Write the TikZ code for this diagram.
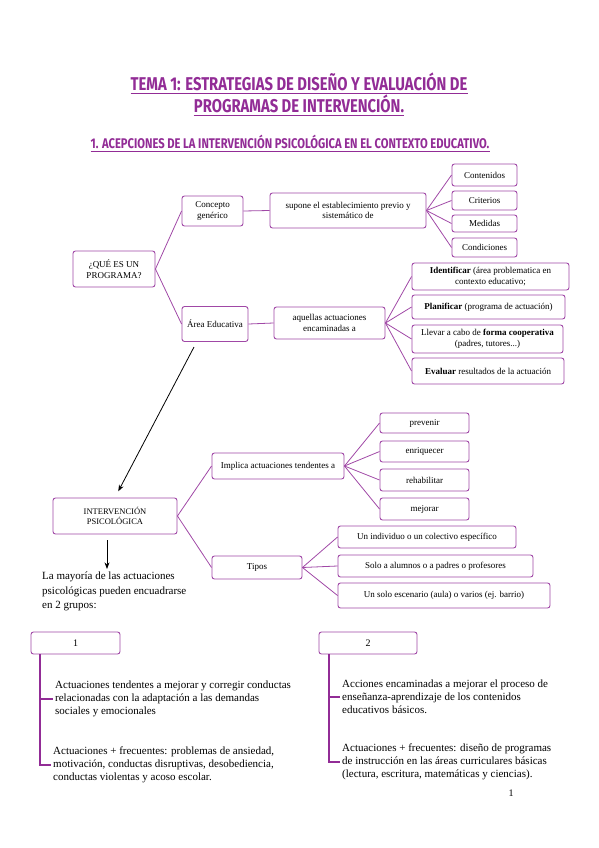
\documentclass[tikz,border=0pt]{standalone}
\usepackage{fontspec}
\setmainfont{Liberation Serif}
\newfontfamily\titulofont{Fira Sans}
\usetikzlibrary{arrows.meta,positioning,calc}
\definecolor{morado}{RGB}{146,44,150}
\definecolor{lila}{RGB}{160,72,166}

\begin{document}
\begin{tikzpicture}[>=Stealth, x=1pt, y=-1pt,
  caja/.style={draw=lila, line width=0.9pt, rounded corners=2.5pt, fill=white, align=center,
    inner sep=1pt, font=\fontsize{9}{10.5}\selectfont},
  tam/.style 2 args={minimum width=#1pt, minimum height=#2pt},
  rama/.style={draw=lila, line width=0.8pt},
  tronco/.style={draw=morado, line width=1.4pt},
  flecha/.style={->, line width=0.8pt, black},
  titulo/.style={inner sep=0pt, text=morado, font=\titulofont\bfseries\fontsize{18.5}{20}\selectfont},
  texto/.style={inner sep=0pt, align=left, font=\fontsize{11}{12.8}\selectfont}]
  \useasboundingbox (0,0) rectangle (599,848);
  \node[titulo] (tit1) at (299,82) {\scalebox{0.8}[1]{TEMA 1: ESTRATEGIAS DE DISEÑO Y EVALUACIÓN DE}};
  \node[titulo] (tit2) at (299,104) {\scalebox{0.8}[1]{PROGRAMAS DE INTERVENCIÓN.}};
  \node[titulo, font=\titulofont\bfseries\fontsize{14}{15}\selectfont] (tit3) at (290,142) {\scalebox{0.8}[1]{1. ACEPCIONES DE LA INTERVENCIÓN PSICOLÓGICA EN EL CONTEXTO EDUCATIVO.}};
  \foreach \t in {tit1,tit2,tit3}
    \draw[morado, line width=1pt] ([yshift=-3pt]\t.base west) -- ([yshift=-3pt]\t.base east);

  \node[caja, tam={82}{36}] (prog) at (114,269) {¿QUÉ ES UN\\PROGRAMA?};
  \node[caja, tam={61}{30}] (concepto) at (212.5,211) {Concepto\\genérico};
  \node[caja, tam={156}{35}] (supone) at (348,210.5) {supone el establecimiento previo y\\sistemático de};
  \node[caja, tam={65}{22}] (contenidos) at (484.5,175) {Contenidos};
  \node[caja, tam={65}{19}] (criterios) at (484.5,200.5) {Criterios};
  \node[caja, tam={65}{17}] (medidas) at (484.5,223.5) {Medidas};
  \node[caja, tam={65}{19}] (condiciones) at (484.5,247.5) {Condiciones};
  \node[caja, tam={66}{35}] (area) at (215,324) {Área Educativa};
  \node[caja, tam={111}{32}] (aquellas) at (329.5,323) {aquellas actuaciones\\encaminadas a};
  \node[caja, tam={157}{27}] (identificar) at (490.5,276.5) {\textbf{Identificar} (área problematica en\\contexto educativo;};
  \node[caja, tam={153}{24}] (planificar) at (488.5,307) {\textbf{Planificar} (programa de actuación)};
  \node[caja, tam={151}{28}] (llevar) at (487.5,339) {Llevar a cabo de \textbf{forma cooperativa}\\(padres, tutores...)};
  \node[caja, tam={152}{26}] (evaluar) at (488,371) {\textbf{Evaluar} resultados de la actuación};

  \draw[rama] (prog.east) -- (concepto.west);
  \draw[rama] (prog.east) -- (area.west);
  \draw[rama] (concepto.east) -- (supone.west);
  \draw[rama] (area.east) -- (aquellas.west);
  \foreach \n in {contenidos,criterios,medidas,condiciones}
    \draw[rama] (supone.east) -- (\n.west);
  \foreach \n in {identificar,planificar,llevar,evaluar}
    \draw[rama] (aquellas.east) -- (\n.west);

  \node[caja, tam={124}{36}, font=\fontsize{8.5}{10}\selectfont] (interv) at (115,516) {INTERVENCIÓN\\PSICOLÓGICA};
  \coordinate (ini) at (194,347);
  \draw[flecha] (ini) -- (interv.north) [shorten >=7pt];
  \node[caja, tam={132}{26}] (implica) at (278,466) {Implica actuaciones tendentes a};
  \node[caja, tam={89}{20}] (prevenir) at (424.5,423) {prevenir};
  \node[caja, tam={89}{21}] (enriquecer) at (424.5,451.5) {enriquecer};
  \node[caja, tam={89}{22}] (rehabilitar) at (424.5,480) {rehabilitar};
  \node[caja, tam={89}{22}] (mejorar) at (424.5,509) {mejorar};
  \node[caja, tam={90}{23}] (tipos) at (257,567.5) {Tipos};
  \node[caja, tam={178}{22}] (individuo) at (427,537) {Un individuo o un colectivo específico};
  \node[caja, tam={195}{22}] (solo) at (435.5,566) {Solo a alumnos o a padres o profesores};
  \node[caja, tam={212}{25}] (escenario) at (444,595.5) {Un solo escenario (aula) o varios (ej. barrio)};

  \draw[rama] (interv.east) -- (implica.west);
  \draw[rama] (interv.east) -- (tipos.west);
  \foreach \n in {prevenir,enriquecer,rehabilitar,mejorar}
    \draw[rama] (implica.east) -- (\n.west);
  \foreach \n in {individuo,solo,escenario}
    \draw[rama] (tipos.east) -- (\n.west);

  \coordinate (baja) at (107,540);
  \draw[flecha] (baja) -- ++(0,29);
  \node[texto, anchor=north west, font=\fontsize{11}{14.5}\selectfont] (mayoria) at (42,572)
    {La mayoría de las actuaciones\\psicológicas pueden encuadrarse\\en 2 grupos:};

  \node[caja, tam={89}{22}, font=\fontsize{10}{11}\selectfont] (g1) at (75.5,643) {1};
  \node[caja, tam={98}{22}, font=\fontsize{10}{11}\selectfont] (g2) at (368,643) {2};
  \node[texto, anchor=west] (t1a) at (55,699) {Actuaciones tendentes a mejorar y corregir conductas\\relacionadas con la adaptación a las demandas\\sociales y emocionales};
  \node[texto, anchor=west] (t1b) at (53,765) {Actuaciones + frecuentes: problemas de ansiedad,\\motivación, conductas disruptivas, desobediencia,\\conductas violentas y acoso escolar.};
  \node[texto, anchor=west] (t2a) at (342,697) {Acciones encaminadas a mejorar el proceso de\\enseñanza-aprendizaje de los contenidos\\educativos básicos.};
  \node[texto, anchor=west] (t2b) at (342,762) {Actuaciones + frecuentes: diseño de programas\\de instrucción en las áreas curriculares básicas\\(lectura, escritura, matemáticas y ciencias).};
  \draw[tronco] ([xshift=-35.5pt]g1.south) |- ([xshift=-2pt]t1b.west);
  \draw[tronco] ([xshift=-35.5pt]g1.south |- t1a.west) -- ([xshift=-2pt]t1a.west);
  \draw[tronco] ([xshift=-39pt]g2.south) |- ([xshift=-2pt]t2b.west);
  \draw[tronco] ([xshift=-39pt]g2.south |- t2a.west) -- ([xshift=-2pt]t2a.west);

  \node[font=\fontsize{10}{12}\selectfont] (pagina) at (511,793) {1};
\end{tikzpicture}
\end{document}
